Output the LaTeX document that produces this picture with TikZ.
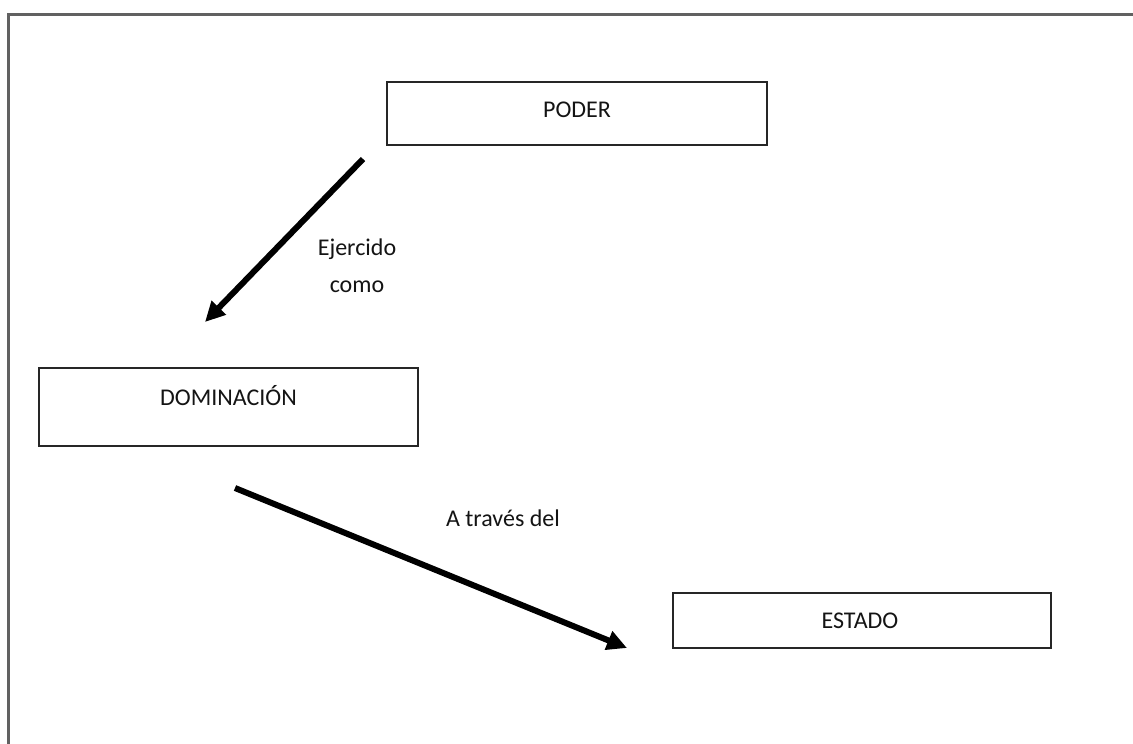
\documentclass[tikz,border=0pt]{standalone}
\usepackage{fontspec}
\setmainfont{Carlito}
\usetikzlibrary{arrows.meta}
\begin{document}
\begin{tikzpicture}[x=1pt,y=-1pt,
  concept/.style={draw=black!85,line width=2pt,inner sep=0pt},
  conceptlabel/.style={font=\fontsize{24}{28}\selectfont,text=black!92,inner sep=0pt},
  link/.style={line width=6pt,black,-{Triangle[length=20pt,width=19pt]}},
  linklabel/.style={font=\fontsize{24}{37}\selectfont,text=black!92,align=center,inner sep=0pt},
  frameline/.style={draw=black!62,line width=3pt}]
  \useasboundingbox (0,0) rectangle (1133,744);
  \fill[white] (0,0) rectangle (1133,744);

  % outer frame (top and left edges)
  \draw[frameline] (8.5,744) -- (8.5,14.5) -- (1133,14.5);

  % concept boxes
  \node[concept,minimum width=380pt,minimum height=63pt] (poder) at (577,113.5) {};
  \node[conceptlabel] (poderT) at (577,110) {PODER};
  \node[concept,minimum width=379pt,minimum height=78pt] (dom) at (228.5,407) {};
  \node[conceptlabel] (domT) at (228.5,396) {DOMINACIÓN};
  \node[concept,minimum width=378pt,minimum height=55pt] (estado) at (862,620.5) {};
  \node[conceptlabel] (estadoT) at (860,621) {ESTADO};

  % connector end points
  \coordinate (a1) at (363,159);
  \coordinate (b1) at (205,322);
  \coordinate (a2) at (235,488);
  \coordinate (b2) at (627,648);

  \draw[link] (a1) -- (b1);
  \draw[link] (a2) -- (b2);

  % connector labels
  \node[linklabel] (l1) at (357,266) {Ejercido\\como};
  \node[linklabel] (l2) at (503,518) {A través del};
\end{tikzpicture}
\end{document}
